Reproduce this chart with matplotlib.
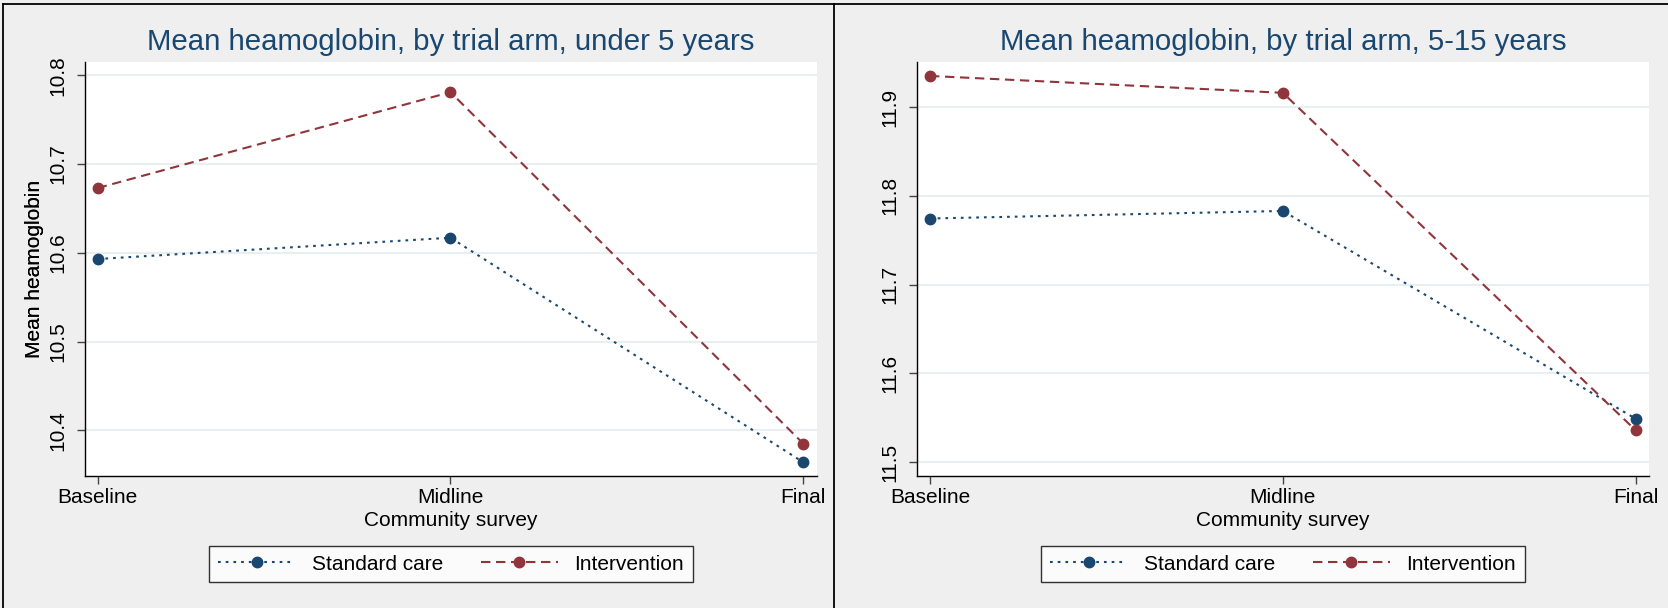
import matplotlib.pyplot as plt
from matplotlib.lines import Line2D

plt.rcParams['font.family'] = ['Liberation Sans', 'DejaVu Sans']

surveys = ["Baseline", "Midline", "Final"]
titles = ["Mean heamoglobin, by trial arm, under 5 years",
          "Mean heamoglobin, by trial arm, 5-15 years"]
standard_u5 = [10.593, 10.617, 10.364]
intervention_u5 = [10.673, 10.781, 10.385]
standard_515 = [11.7745, 11.783, 11.549]
intervention_515 = [11.935, 11.916, 11.536]
yticks_u5 = [10.4, 10.5, 10.6, 10.7, 10.8]
yticks_515 = [11.5, 11.6, 11.7, 11.8, 11.9]

navy = '#1a476f'
maroon = '#90353b'
bg = '#efefef'

W, H = 1668, 608
fig = plt.figure(figsize=(W / 100, H / 100), dpi=100, facecolor=bg)

panels = [
    (85, 817, 62, 476, standard_u5, intervention_u5, yticks_u5,
     (-0.036, 2.039), (10.3485, 10.815), titles[0]),
    (916.7, 1649.3, 62, 476, standard_515, intervention_515, yticks_515,
     (-0.0377, 2.0385), (11.4846, 11.9507), titles[1]),
]

fs = 15
for (x0, x1, y0, y1, std, itv, yt, xl, yl, title) in panels:
    ax = fig.add_axes([x0 / W, 1 - y1 / H, (x1 - x0) / W, (y1 - y0) / H])
    ax.set_facecolor('white')
    x = list(range(len(surveys)))
    ax.plot(x, std, color=navy, lw=1.5, ls=(0, (1.3, 2.4)),
            marker='o', ms=7.5, label='Standard care')
    ax.plot(x, itv, color=maroon, lw=1.5, ls=(0, (4.5, 2.7)),
            marker='o', ms=7.5, label='Intervention')
    ax.set_xlim(*xl)
    ax.set_ylim(*yl)
    ax.set_yticks(yt)
    ax.set_yticklabels([f"{v:.1f}" for v in yt], rotation=90, va='center')
    ax.set_xticks(x)
    ax.set_xticklabels(surveys)
    ax.yaxis.grid(True, color='#e8eff1', lw=1.5)
    ax.set_axisbelow(True)
    for s in ['top', 'right']:
        ax.spines[s].set_visible(False)
    for s in ['left', 'bottom']:
        ax.spines[s].set_color('black')
        ax.spines[s].set_linewidth(1.0)
    ax.tick_params(axis='both', length=5.8, width=1, color='#444444',
                   labelsize=fs)
    ax.tick_params(axis='y', pad=7)
    ax.tick_params(axis='x', pad=3)
    ax.set_ylabel('Mean heamoglobin', fontsize=fs, va='center')
    ax.yaxis.set_label_coords((35 - x0) / (x1 - x0), 0.5)
    ax.set_xlabel('Community survey', fontsize=fs, va='center')
    ax.xaxis.set_label_coords(0.5, (y1 - 520) / (y1 - y0))
    fig.text((x0 + x1) / 2 / W, 1 - 50 / H, title, ha='center',
             va='baseline', fontsize=21.2, color=navy)
    leg = fig.legend(*ax.get_legend_handles_labels(), loc='center',
                     bbox_to_anchor=((x0 + x1) / 2 / W, 1 - 564 / H),
                     ncol=2, fontsize=fs, frameon=True, fancybox=False,
                     handlelength=3.7, handletextpad=0.8, columnspacing=1.8,
                     borderpad=0.42, numpoints=1)
    leg.get_frame().set_edgecolor('black')
    leg.get_frame().set_linewidth(1.0)
    leg.get_frame().set_facecolor('white')

# outer frame lines
for xs, ys in [([3 / W, 1], [1 - 4 / H, 1 - 4 / H]),
               ([3 / W, 3 / W], [0, 1 - 4 / H]),
               ([834 / W, 834 / W], [0, 1 - 4 / H])]:
    fig.add_artist(Line2D(xs, ys, color='black', lw=1.3,
                          transform=fig.transFigure))

fig.savefig('out.png', dpi=100, facecolor=bg)
